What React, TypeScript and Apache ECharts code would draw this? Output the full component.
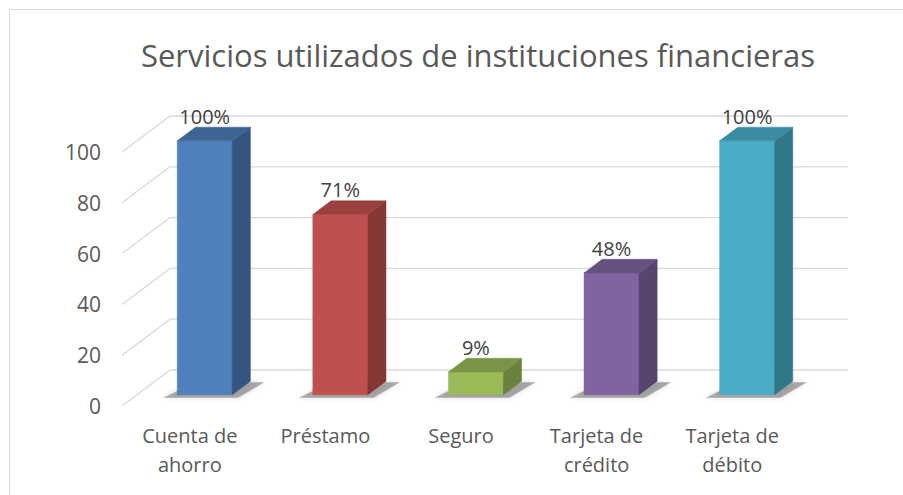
import React, { useEffect, useRef } from "react";
import * as echarts from "echarts";

const title = "Servicios utilizados de instituciones financieras";
const categories = ["Cuenta de\nahorro", "Préstamo", "Seguro", "Tarjeta de\ncrédito", "Tarjeta de\ndébito"];
const values = [100, 71, 9, 48, 100];
const valueLabels = ["100%", "71%", "9%", "48%", "100%"];
const yTicks = [0, 20, 40, 60, 80, 100];
const frontColors = ["#4F81BD", "#C0504D", "#9BBB59", "#8064A2", "#4BACC6"];
const sideColors = ["#34557F", "#843735", "#6A823C", "#574570", "#31778A"];
const topColors = ["#3D6594", "#9A403E", "#7A9446", "#66507F", "#3A8CA2"];

const FONT = "Open Sans";
const DX = 48;
const DY = 36;
const D0 = 0.31;
const D1 = 0.69;

export default function App() {
  const ref = useRef<HTMLDivElement>(null);
  useEffect(() => {
    if (!ref.current) return;
    const chart = echarts.init(ref.current, undefined, { renderer: "svg" });
    chart.setOption({
      animation: false,
      backgroundColor: "#ffffff",
      textStyle: { fontFamily: FONT },
      grid: { left: 122, right: 103, top: 152, bottom: 89 },
      xAxis: {
        type: "category",
        data: categories,
        axisLine: { show: false },
        axisTick: { show: false },
        axisLabel: { fontSize: 20, lineHeight: 29, color: "#595959", margin: 15, fontFamily: FONT, interval: 0 },
      },
      yAxis: {
        type: "value",
        min: 0,
        max: 100,
        interval: 20,
        axisLine: { show: false },
        axisTick: { show: false },
        splitLine: { show: false },
        axisLabel: { fontSize: 21, color: "#595959", margin: 21, fontFamily: FONT },
      },
      graphic: [
        {
          type: "rect",
          shape: { x: 9.5, y: 9.5, width: 1000, height: 1000 },
          style: { fill: "none", stroke: "#d9d9d9", lineWidth: 1 },
          silent: true,
        },
        {
          type: "text",
          x: 478,
          y: 55,
          style: {
            text: title,
            fontSize: 31,
            fontFamily: FONT,
            fill: "#595959",
            align: "center",
            verticalAlign: "middle",
          },
        },
      ],
      series: [
        {
          type: "custom",
          silent: true,
          z: 1,
          data: yTicks.map((t) => [0, t]),
          encode: { x: 0, y: 1 },
          renderItem: (params: any, api: any) => {
            const cs = params.coordSys;
            const p = api.coord([0, api.value(1)]);
            const x0 = cs.x;
            const y = p[1];
            const style = { stroke: "#d9d9d9", lineWidth: 1.3 };
            return {
              type: "group",
              children: [
                { type: "line", shape: { x1: x0, y1: y, x2: x0 + DX, y2: y - DY }, style },
                { type: "line", shape: { x1: x0 + DX, y1: y - DY, x2: x0 + cs.width + DX, y2: y - DY }, style },
              ],
            };
          },
        },
        {
          type: "custom",
          z: 2,
          data: values.map((v, i) => [i, v]),
          encode: { x: 0, y: 1 },
          renderItem: (params: any, api: any) => {
            const i = params.dataIndex;
            const c = api.coord([api.value(0), api.value(1)]);
            const b = api.coord([api.value(0), 0]);
            const band = api.size([1, 0])[0];
            const w = band * 0.405;
            const fx = c[0] + D0 * DX - w / 2;
            const topY = c[1] - D0 * DY;
            const botY = b[1] - D0 * DY;
            const ox = (D1 - D0) * DX;
            const oy = (D1 - D0) * DY;
            return {
              type: "group",
              children: [
                {
                  type: "polygon",
                  shape: {
                    points: [
                      [fx - 14, botY + 3],
                      [fx + w + 6, botY + 3],
                      [fx + w + ox + 14, botY - oy + 1],
                      [fx + ox, botY - oy + 1],
                    ],
                  },
                  style: { fill: "rgba(40,40,40,0.35)", shadowBlur: 5, shadowColor: "rgba(0,0,0,0.4)" },
                },
                {
                  type: "rect",
                  shape: { x: fx, y: topY, width: w, height: botY - topY },
                  style: { fill: frontColors[i], stroke: frontColors[i], lineWidth: 0.5 },
                },
                {
                  type: "polygon",
                  shape: {
                    points: [
                      [fx + w, topY],
                      [fx + w + ox, topY - oy],
                      [fx + w + ox, botY - oy],
                      [fx + w, botY],
                    ],
                  },
                  style: { fill: sideColors[i], stroke: sideColors[i], lineWidth: 0.5 },
                },
                {
                  type: "polygon",
                  shape: {
                    points: [
                      [fx, topY],
                      [fx + ox, topY - oy],
                      [fx + w + ox, topY - oy],
                      [fx + w, topY],
                    ],
                  },
                  style: { fill: topColors[i], stroke: topColors[i], lineWidth: 0.5 },
                },
                {
                  type: "text",
                  x: fx + w / 2,
                  y: topY - oy - 11,
                  style: {
                    text: valueLabels[i],
                    fontSize: 20,
                    fontFamily: FONT,
                    fill: "#404040",
                    align: "center",
                    verticalAlign: "middle",
                  },
                },
              ],
            };
          },
        },
      ],
    });
    return () => chart.dispose();
  }, []);
  return <div ref={ref} style={{ position: "fixed", left: 0, top: 0, width: 903, height: 495 }} />;
}
